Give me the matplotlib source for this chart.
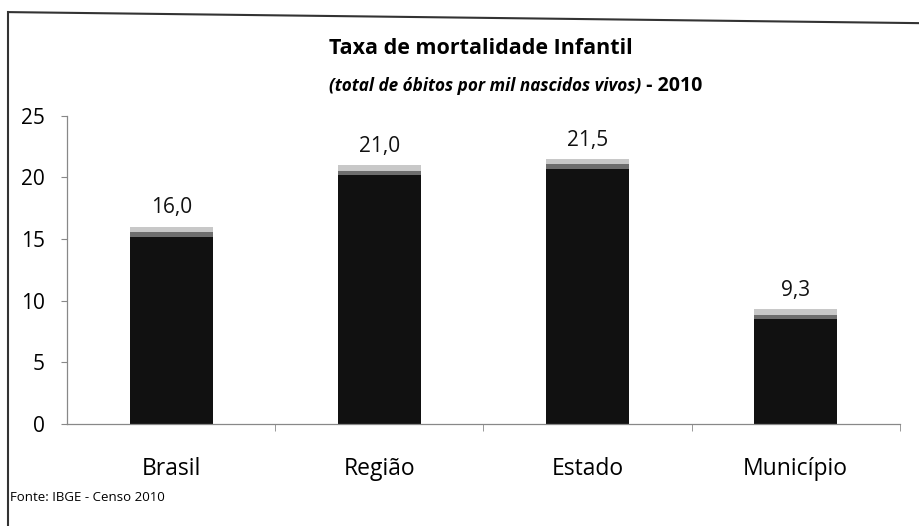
import matplotlib.pyplot as plt
from matplotlib.lines import Line2D

# dados
categorias = ['Brasil', 'Região', 'Estado', 'Município']
taxas = [16.0, 21.0, 21.5, 9.3]
rotulos = ['16,0', '21,0', '21,5', '9,3']
y_ticks = [0, 5, 10, 15, 20, 25]

plt.rcParams['font.family'] = ['Open Sans', 'DejaVu Sans']

fig = plt.figure(figsize=(9.2, 5.26), dpi=100)
ax = fig.add_axes([0.073, 0.194, 0.905, 0.586])

x = list(range(len(categorias)))
ax.bar(x, taxas, width=0.4, color='#111111', zorder=2)
# brilho no topo das barras
ax.bar(x, [0.8] * len(taxas), bottom=[t - 0.8 for t in taxas], width=0.4,
       color='#6e6e6e', zorder=3)
ax.bar(x, [0.45] * len(taxas), bottom=[t - 0.45 for t in taxas], width=0.4,
       color='#c8c8c8', zorder=4)

for xi, t, r in zip(x, taxas, rotulos):
    ax.annotate(r, (xi, t), xytext=(0, 6), textcoords='offset points',
                ha='center', va='bottom', fontsize=15, color='#111111')

ax.set_xlim(-0.5, len(categorias) - 0.5)
ax.set_ylim(0, 25)
ax.set_yticks(y_ticks)
ax.set_yticklabels([str(v) for v in y_ticks], fontsize=15)
ax.set_xticks(x)
ax.set_xticklabels(categorias, fontsize=16.5)
ax.tick_params(axis='x', length=0, pad=24)
ax.tick_params(axis='y', length=4, color='#888888', pad=12)
# marcas entre categorias
ax.set_xticks([i + 0.5 for i in x], minor=True)
ax.tick_params(axis='x', which='minor', length=5, color='#888888')

for s in ['top', 'right']:
    ax.spines[s].set_visible(False)
for s in ['left', 'bottom']:
    ax.spines[s].set_color('#888888')
    ax.spines[s].set_linewidth(0.9)

fig.text(0.523, 0.908, 'Taxa de mortalidade Infantil', ha='center', va='center',
         fontsize=15.5, fontweight='bold')
fig.text(0.697, 0.836, '(total de óbitos por mil nascidos vivos)', ha='right',
         va='center', fontsize=12.3, fontweight='bold', style='italic')
fig.text(0.697, 0.836, ' - 2010', ha='left', va='center', fontsize=14,
         fontweight='bold')
fig.text(0.011, 0.054, 'Fonte: IBGE - Censo 2010', ha='left', va='center',
         fontsize=9.5)

# moldura do gráfico (digitalizado)
fig.add_artist(Line2D([0.009, 0.009], [0.0, 0.977], color='#333333', lw=1.5))
fig.add_artist(Line2D([0.009, 1.0], [0.977, 0.956], color='#333333', lw=1.5))

fig.savefig('out.png', dpi=100, facecolor='white')
